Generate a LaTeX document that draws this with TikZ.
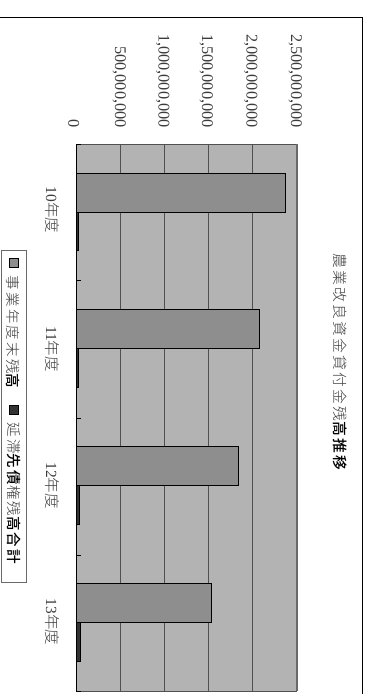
\documentclass[tikz,border=0pt]{standalone}
\usepackage{fontspec}
\setmainfont{Liberation Serif}
\newfontfamily\cjk{Noto Sans CJK JP}[UprightFont={* Light}, BoldFont={* Medium}]
\newfontfamily\cjkwide{Noto Sans CJK JP}[UprightFont={* Light}, BoldFont={* Medium}, LetterSpace=15]
\definecolor{plotbg}{RGB}{179,179,179}
\definecolor{barA}{RGB}{142,142,142}
\definecolor{barB}{RGB}{51,51,51}
\definecolor{gridc}{RGB}{80,80,80}
\definecolor{edgec}{RGB}{105,105,105}
\definecolor{txtc}{RGB}{60,60,60}
\begin{document}
\begin{tikzpicture}[x=1pt,y=-1pt,
  vlabel/.style={rotate=-90, inner sep=0pt, anchor=east, text=txtc, font=\fontsize{16.3}{17}\selectfont},
  clabel/.style={rotate=-90, inner sep=0pt, text=txtc, font=\fontsize{15.5}{16}\selectfont},
  ttl/.style={rotate=-90, inner sep=0pt, text=txtc, font=\cjkwide\fontsize{14.8}{18}\selectfont},
  legtext/.style={rotate=-90, inner sep=0pt, anchor=west, text=txtc, font=\cjkwide\fontsize{14.5}{17}\selectfont},
  barone/.style={fill=barA, draw=black, line width=0.9pt},
  bartwo/.style={fill=barB, draw=black, line width=0.9pt},
  gridline/.style={draw=gridc, line width=0.9pt}]
\useasboundingbox (0,0) rectangle (366,694);
% outer frame
\draw[line width=1pt] (0,17) -- (362,17) -- (362,700);
% plot area
\fill[plotbg] (76,144) rectangle (297,691);
\foreach \x in {120.3,164.7,208.3,252.7} \draw[gridline] (\x,144) -- (\x,691);
\draw[gridline] (76,144) -- (297,144);
\draw[edgec, line width=1.6pt] (297,144) -- (297,691);
\draw[gridline] (76,691) -- (297,691);
% bars
\draw[barone] (76,173) rectangle (285.3,212);
\draw[bartwo] (76,212) rectangle (78.7,250.7);
\draw[barone] (76,309.3) rectangle (259.3,348.7);
\draw[bartwo] (76,348.7) rectangle (78.5,387.7);
\draw[barone] (76,446) rectangle (238.3,485.7);
\draw[bartwo] (76,485.7) rectangle (79,524.3);
\draw[barone] (76,583.3) rectangle (211.7,622.7);
\draw[bartwo] (76,622.7) rectangle (80.5,661);
% category axis
\draw[black, line width=1pt] (76,144) -- (76,691.5);
\foreach \y in {144,280.7,418,555,691} \draw[black, line width=0.8pt] (76,\y) -- (81,\y);
% value labels
\node[vlabel] (v0) at (73.7,128) {0};
\node[vlabel] (v1) at (119.3,128) {500,000,000};
\node[vlabel] (v2) at (162.8,128) {1,000,000,000};
\node[vlabel] (v3) at (206.2,128) {1,500,000,000};
\node[vlabel] (v4) at (250.8,128) {2,000,000,000};
\node[vlabel] (v5) at (295.3,128) {2,500,000,000};
% category labels
\node[clabel] (c1) at (52,210) {10{\cjk 年度}};
\node[clabel] (c2) at (52,349) {11{\cjk 年度}};
\node[clabel] (c3) at (52,485.5) {12{\cjk 年度}};
\node[clabel] (c4) at (52,622) {13{\cjk 年度}};
% title
\node[ttl] (title) at (340,362) {農業改良資金貸付金残{\bfseries\color{black}高推移}};
% legend
\draw[edgec, line width=1pt, fill=white] (1.5,250.7) rectangle (26,582.7);
\draw[fill=barA, draw=black, line width=0.8pt] (9,258.5) rectangle (18,267.5);
\node[legtext] (l1) at (13.5,275.5) {事業年度末残{\bfseries\color{black}高}};
\draw[fill=barB, draw=black, line width=0.8pt] (9,405) rectangle (18,414);
\node[legtext] (l2) at (13.5,422.5) {延滞{\bfseries\color{black}先債}権残{\bfseries\color{black}高合計}};
\end{tikzpicture}
\end{document}
